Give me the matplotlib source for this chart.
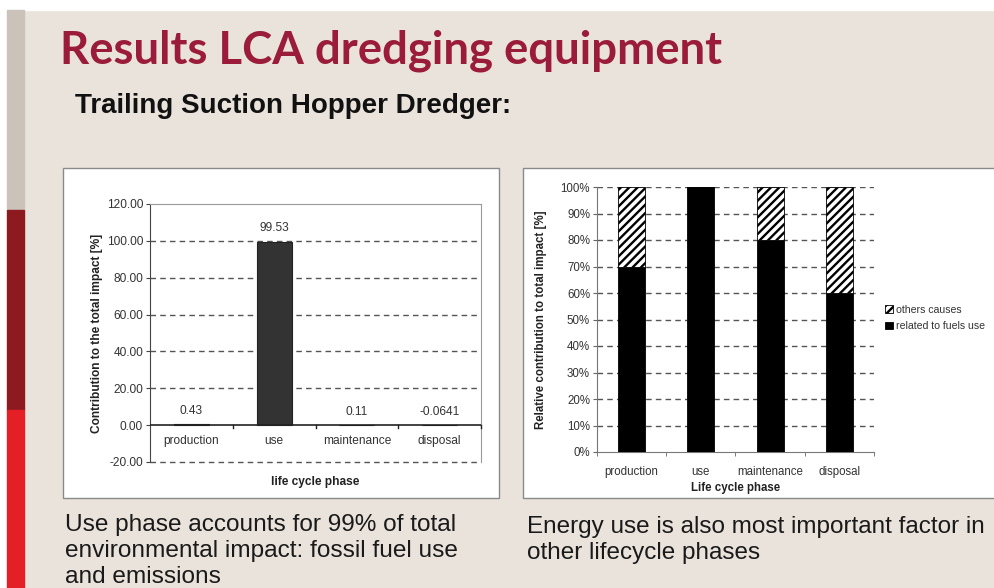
import matplotlib
matplotlib.use("Agg")
import matplotlib.pyplot as plt
from matplotlib.patches import Rectangle

PHASES = ["production", "use", "maintenance", "disposal"]
CONTRIBUTION = [0.43, 99.53, 0.11, -0.0641]
CONTRIBUTION_LABELS = ["0.43", "99.53", "0.11", "-0.0641"]
FUEL_SHARE = [70, 100, 80, 60]
OTHER_SHARE = [30, 0, 20, 40]

W, H = 995, 588
BG = "#e9e3db"
TITLE_RED = "#9b1b3b"
SANS = ["Liberation Sans", "DejaVu Sans"]

plt.rcParams["font.family"] = SANS
plt.rcParams["hatch.linewidth"] = 1.7


def px(x0, y0, x1, y1):
    # pixel box (top-left origin) -> figure fraction rect
    return [x0 / W, 1 - y1 / H, (x1 - x0) / W, (y1 - y0) / H]


fig = plt.figure(figsize=(W / 100, H / 100), dpi=100, facecolor=BG)

# slide decoration
bg = fig.add_axes([0, 0, 1, 1])
bg.set_xlim(0, W)
bg.set_ylim(H, 0)
bg.axis("off")
bg.add_patch(Rectangle((0, 0), W, 10, color="white"))
bg.add_patch(Rectangle((0, 0), 7, H, color="white"))
bg.add_patch(Rectangle((7, 10), 17, 200, color="#cbc3b9"))
bg.add_patch(Rectangle((7, 210), 17, 200, color="#8c1a1f"))
bg.add_patch(Rectangle((7, 410), 17, 178, color="#e41f26"))
bg.add_patch(Rectangle((63, 168), 436, 330, facecolor="white", edgecolor="#8a8a8a", lw=1))
bg.add_patch(Rectangle((523, 168), 480, 330, facecolor="white", edgecolor="#8a8a8a", lw=1))

bg.text(60, 51, "Results LCA dredging equipment", color=TITLE_RED, fontsize=32.8,
        fontweight="bold", family=["Lato", "DejaVu Sans"], va="center", ha="left")
bg.text(75, 106, "Trailing Suction Hopper Dredger:", color="#111111", fontsize=20,
        fontweight="bold", va="center", ha="left")
bg.text(65, 514, "Use phase accounts for 99% of total\nenvironmental impact: fossil fuel use\nand emissions",
        color="#1a1a1a", fontsize=17.6, va="top", ha="left", linespacing=1.24)
bg.text(527, 516, "Energy use is also most important factor in\nother lifecycle phases",
        color="#1a1a1a", fontsize=17.5, va="top", ha="left", linespacing=1.24)

TXT = "#333333"
GRID = "#555555"
FS1 = 8.6
FS2 = 8.3
x = range(len(PHASES))

# ---- left chart: contribution to total impact
ax1 = fig.add_axes(px(150, 204, 481, 462))
ax1.bar(x, CONTRIBUTION, width=0.42, color="#333333", edgecolor="#222222", lw=0.8, zorder=3)
ax1.set_xlim(-0.5, 3.5)
ax1.set_ylim(-20, 120)
ax1.set_yticks(range(-20, 121, 20))
ax1.set_yticklabels([f"{v:.2f}" for v in range(-20, 121, 20)], fontsize=FS1, color=TXT)
ax1.set_xticks([])
for v in range(-20, 101, 20):
    if v != 0:
        ax1.axhline(v, color=GRID, ls=(0, (4, 3)), lw=1.0, zorder=1, clip_on=False)
ax1.axhline(0, color="#222222", lw=1.2, zorder=4)
for b in [0.5, 1.5, 2.5, 3.5]:
    ax1.plot([b, b], [0, -1.6], color="#222222", lw=1, zorder=4, clip_on=False)
ax1.spines["bottom"].set_visible(False)
for s in ["top", "right"]:
    ax1.spines[s].set_color("#9a9a9a")
ax1.spines["left"].set_color("#444444")
ax1.tick_params(axis="y", length=3, color="#444444", pad=2)
for i, (v, lab) in enumerate(zip(CONTRIBUTION, CONTRIBUTION_LABELS)):
    ax1.text(i, max(v, 0) + 4, lab, ha="center", va="bottom", fontsize=FS1, color=TXT)
    ax1.text(i, -8.7, PHASES[i], ha="center", va="center", fontsize=FS1, color=TXT)
ax1.text(-53 / 331, 0.5, "Contribution to the total impact [%]", transform=ax1.transAxes,
         rotation=90, ha="center", va="center", fontsize=FS1, fontweight="bold", color="#222222")
ax1.text(0.5, -20 / 258, "life cycle phase", transform=ax1.transAxes,
         ha="center", va="center", fontsize=FS1, fontweight="bold", color="#222222")

# ---- right chart: relative contribution, stacked
ax2 = fig.add_axes(px(597, 187, 874, 452))
ax2.bar(x, FUEL_SHARE, width=0.39, color="black", edgecolor="black", lw=0.6, zorder=3,
        label="related to fuels use")
ax2.bar(x, OTHER_SHARE, bottom=FUEL_SHARE, width=0.39, color="white", edgecolor="black",
        hatch="////", lw=0.6, zorder=3, label="others causes")
ax2.set_xlim(-0.5, 3.5)
ax2.set_ylim(0, 100)
ax2.set_yticks(range(0, 101, 10))
ax2.set_yticklabels([f"{v}%" for v in range(0, 101, 10)], fontsize=FS2, color=TXT)
for v in range(10, 101, 10):
    ax2.axhline(v, color=GRID, ls=(0, (4, 3)), lw=1.0, zorder=1)
ax2.set_xticks(list(x))
ax2.set_xticklabels(PHASES, fontsize=FS2, color=TXT)
ax2.set_xticks([-0.5, 0.5, 1.5, 2.5, 3.5], minor=True)
ax2.tick_params(axis="x", which="major", length=0, pad=10)
ax2.tick_params(axis="x", which="minor", length=3, color="#666666")
ax2.tick_params(axis="y", length=3, color="#666666", pad=2)
for s in ["top", "right"]:
    ax2.spines[s].set_visible(False)
for s in ["left", "bottom"]:
    ax2.spines[s].set_color("#777777")
ax2.text(-56 / 277, 0.5, "Relative contribution to total impact [%]", transform=ax2.transAxes,
         rotation=90, ha="center", va="center", fontsize=FS2, fontweight="bold", color="#222222")
ax2.text(0.5, -36 / 265, "Life cycle phase", transform=ax2.transAxes,
         ha="center", va="center", fontsize=FS2, fontweight="bold", color="#222222")
handles, labels = ax2.get_legend_handles_labels()
fig.legend(handles[::-1], labels[::-1], loc="center left",
           bbox_to_anchor=(878 / W, 1 - 318 / H), frameon=False, fontsize=7.6,
           handlelength=0.75, handleheight=0.75, handletextpad=0.25, labelspacing=0.6,
           borderpad=0.2, labelcolor=TXT)

fig.savefig("out.png", dpi=100, facecolor=BG)
